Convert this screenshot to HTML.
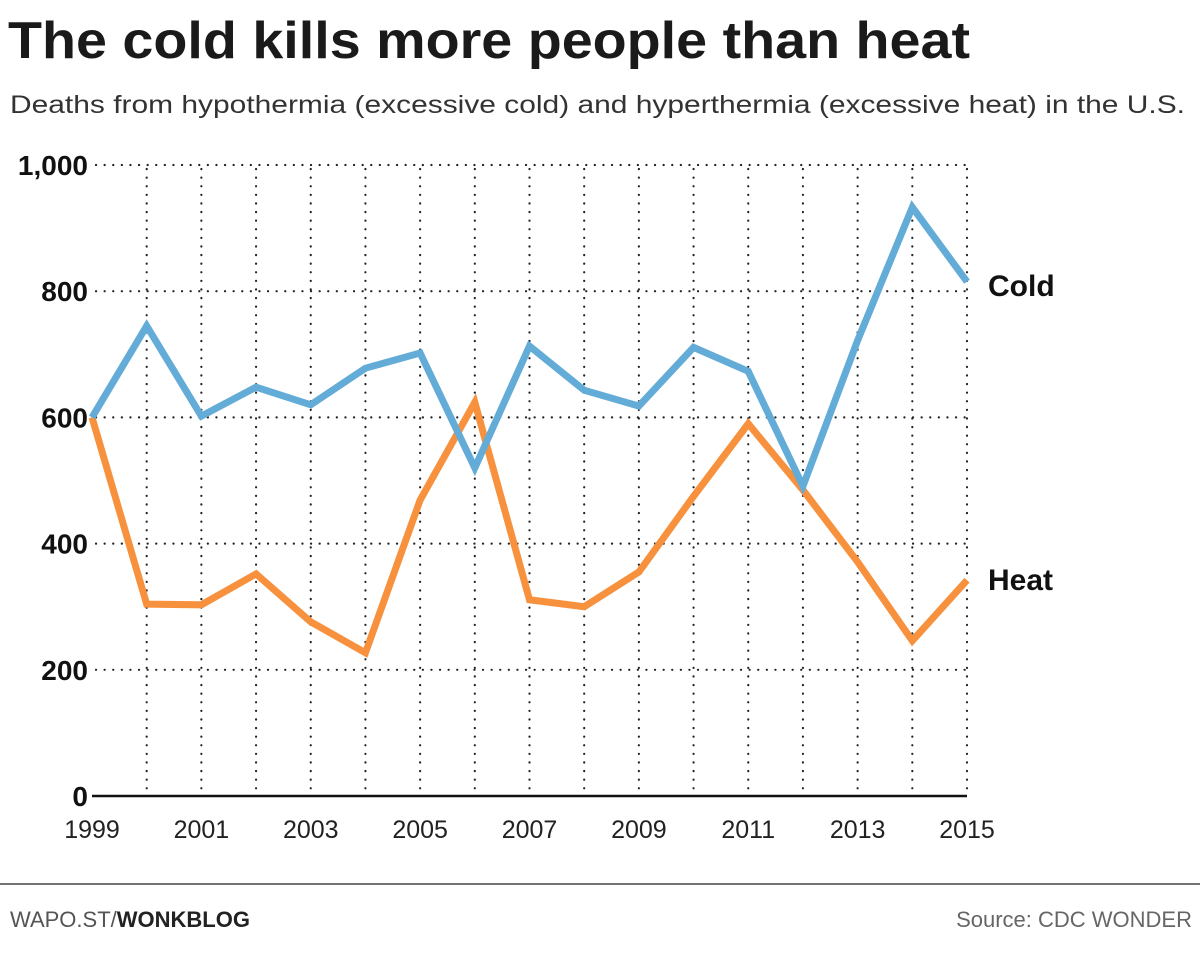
<!DOCTYPE html>
<html><head><meta charset="utf-8"><style>
body{margin:0;background:#fff;width:1200px;height:959px;overflow:hidden;font-family:"Liberation Sans",sans-serif}
</style></head><body>
<svg width="1200" height="959">
<text x="8" y="58" font-size="52" font-weight="bold" fill="#1a1a1a" textLength="962" lengthAdjust="spacingAndGlyphs">The cold kills more people than heat</text>
<text x="10" y="113" font-size="25" fill="#333" textLength="1175" lengthAdjust="spacingAndGlyphs">Deaths from hypothermia (excessive cold) and hyperthermia (excessive heat) in the U.S.</text>
<g id="grid"></g>
<g id="axes"></g>
<g id="lines"></g>
<text x="988" y="296" font-size="30" font-weight="bold" fill="#111">Cold</text>
<text x="988" y="590" font-size="30" font-weight="bold" fill="#111">Heat</text>
<line x1="0" y1="884" x2="1200" y2="884" stroke="#444" stroke-width="1.5"/>
<text x="10" y="927" font-size="22" fill="#555">WAPO.ST/<tspan font-weight="bold" fill="#222">WONKBLOG</tspan></text>
<text x="1192" y="927" font-size="22" fill="#666" text-anchor="end">Source: CDC WONDER</text>
</svg>
<script>
const years=[1999,2000,2001,2002,2003,2004,2005,2006,2007,2008,2009,2010,2011,2012,2013,2014,2015];
const cold=[600,745,602,648,620,678,702,520,713,643,618,711,673,491,722,933,815];
const heat=[600,304,303,352,276,227,469,624,311,300,355,475,590,485,371,246,342];
const yTicks=[0,200,400,600,800,1000];
const yTickLabels=["0","200","400","600","800","1,000"];
const xTickLabels=["1999","2001","2003","2005","2007","2009","2011","2013","2015"];
const NS="http://www.w3.org/2000/svg";
const x=y=>92+(y-1999)*(967-92)/16;
const yv=v=>796-v*(796-165)/1000;
function mk(tag,attrs,parent){const e=document.createElementNS(NS,tag);for(const k in attrs)e.setAttribute(k,attrs[k]);parent.appendChild(e);return e;}
const g=document.getElementById('grid'),ax=document.getElementById('axes'),ln=document.getElementById('lines');
yTicks.forEach((t,i)=>{
 if(t>0){const l=mk('line',{x1:96,x2:967,y1:yv(t),y2:yv(t),stroke:'#222','stroke-width':2.2,'stroke-dasharray':'0.1 8.5','stroke-linecap':'round'},g);
 
 }
 const tx=mk('text',{x:88,y:yv(t)+10,'font-size':28,'font-weight':'bold','text-anchor':'end',fill:'#111'},ax);tx.textContent=yTickLabels[i];
 
 
});
years.forEach(yr=>{ if(yr===1999)return;
 const l=mk('line',{x1:x(yr),x2:x(yr),y1:169,y2:796,stroke:'#222','stroke-width':2.2,'stroke-dasharray':'0.1 8.5','stroke-linecap':'round'},g);
 
 
});
const base=mk('line',{x1:92,x2:967,y1:796,y2:796,stroke:'#111','stroke-width':2.5},ax);


xTickLabels.forEach(s=>{const t=mk('text',{x:x(+s),y:838,'font-size':25,'text-anchor':'middle',fill:'#222'},ax);t.textContent=s;
 
 });
function series(vals,col,name){const p=mk('polyline',{points:years.map((yr,i)=>x(yr)+','+yv(vals[i])).join(' '),fill:'none',stroke:col,'stroke-width':7,'stroke-linejoin':'miter','stroke-miterlimit':3},ln);
 
 }
series(heat,'#f7913d','heat-line');
series(cold,'#64acd8','cold-line');
</script>
</body></html>
